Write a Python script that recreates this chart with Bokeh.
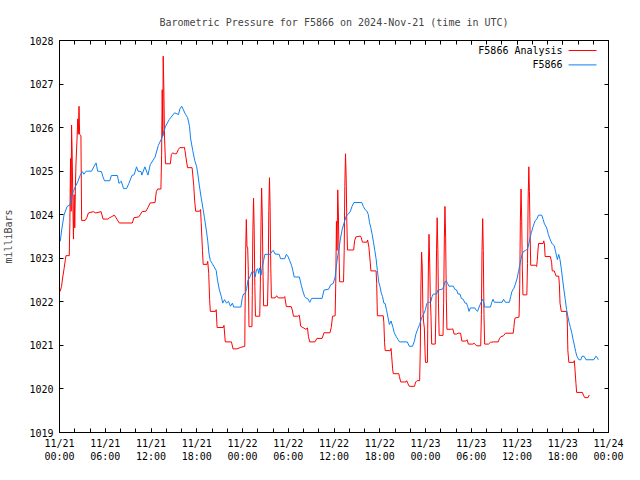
import pandas as pd
from bokeh.plotting import figure
from bokeh.models import (Range1d, FixedTicker, DatetimeAxis, LinearAxis,
                          DatetimeTickFormatter, CustomJSTickFormatter, Label)
from bokeh.embed import file_html
from bokeh.resources import INLINE

# ---------------- data (hours after 2024-11-21 00:00 UTC, millibars) ----------------
START = "2024-11-21 00:00"

analysis_hours = [
    0.09, 0.26, 0.43, 0.6, 0.77, 0.85, 1.28, 1.36, 1.45, 1.53, 1.58, 1.66, 1.75, 1.83, 1.92, 2.0,
    2.09, 2.17, 2.3, 2.39, 2.47, 2.56, 2.64, 2.81, 2.9, 3.37, 3.58, 3.79, 4.43, 4.77, 5.46, 5.71,
    6.35, 6.56, 6.78, 7.2, 7.42, 7.84, 9.55, 9.76, 10.4, 10.83, 11.34, 11.59, 11.89,
    12.53, 12.7, 12.87, 13.3, 13.39, 13.47, 13.55, 13.6, 13.68, 13.77, 13.9, 14.54, 14.67, 14.84,
    15.09, 15.34, 15.6, 15.77, 16.24, 16.37, 16.45, 16.67, 16.8, 17.39, 17.48, 17.6, 17.73, 17.86,
    18.37, 18.5, 18.58, 18.75, 18.84, 19.35, 19.44, 19.57, 19.69, 19.78, 20.46, 20.55, 20.67,
    21.48, 21.57, 21.74, 22.55, 22.76, 23.28, 23.7,
    24.3, 24.33, 24.42, 24.5, 24.59, 24.68, 24.76, 24.85, 25.24, 25.28, 25.36, 25.45, 25.53, 25.62,
    25.7, 26.26, 26.34, 26.43, 26.51, 26.6, 26.68, 26.77, 27.28, 27.37, 27.45, 27.54, 27.62, 27.71,
    27.79, 28.26, 28.48, 28.69, 29.41, 29.54, 29.75, 30.39, 30.52, 30.69, 31.24, 31.46, 31.63,
    32.31, 32.52, 32.65, 32.82, 33.5, 33.76, 34.44, 34.69, 35.47, 35.64, 35.81,
    36.15, 36.23, 36.32, 36.4, 36.49, 36.57, 36.66, 36.74, 37.25, 37.34, 37.42, 37.51, 37.6, 37.68,
    37.77, 38.58, 38.7, 38.87, 39.47, 39.56, 39.73, 40.32, 40.41, 40.58, 40.75, 40.84, 41.52, 41.6,
    41.69, 42.46, 42.54, 42.63, 42.71, 43.39, 43.48, 43.56, 43.69, 43.77, 44.5, 44.58, 44.75,
    45.44, 45.53, 45.7, 45.87, 46.55, 46.72, 46.89, 47.23, 47.32, 47.4, 47.49, 47.57, 47.66,
    47.74, 47.85, 47.95, 48.0,
    48.25, 48.29, 48.38, 48.46, 48.55, 48.63, 48.72, 48.81, 49.28, 49.36, 49.45, 49.53, 49.62, 49.7,
    49.79, 50.3, 50.38, 50.47, 50.55, 50.64, 50.73, 50.81, 51.41, 51.58, 51.75, 52.09, 52.26, 52.6,
    52.77, 53.28, 53.45, 53.62, 54.22, 54.39, 54.47, 54.73, 55.24, 55.33, 55.41, 55.5, 55.58, 55.67,
    55.76, 56.27, 56.52, 56.95, 57.54, 57.71, 57.88, 58.23, 58.48, 59.5, 59.59, 59.68, 59.76,
    60.27, 60.36, 60.44, 60.53, 60.61, 60.7, 60.78, 61.29, 61.38, 61.46, 61.55, 61.63, 61.72, 61.8,
    62.4, 62.57, 62.66, 62.75, 62.83, 63.43, 63.51, 63.6, 63.69, 64.37, 64.54, 64.62, 64.88, 65.13,
    65.47, 65.56, 65.64, 65.81, 66.5, 66.59, 66.67, 66.8, 67.43, 67.52, 67.6, 67.73, 67.82, 68.58,
    68.71, 68.88, 69.31, 69.48,
]
analysis_mbar = [
    1022.24, 1022.35, 1022.57, 1022.76, 1022.97, 1023.06, 1023.06, 1023.82, 1025.29, 1024.08,
    1026.06, 1025.4, 1024.31, 1023.44, 1024.46, 1023.7, 1024.68, 1025.21, 1025.74, 1026.2,
    1025.85, 1026.49, 1025.85, 1025.81, 1023.87, 1023.87, 1023.93, 1024.04, 1024.07, 1024.04,
    1024.07, 1023.9, 1023.9, 1023.93, 1023.95, 1023.99, 1023.93, 1023.81, 1023.81, 1023.93,
    1023.95, 1024.07, 1024.08, 1024.16, 1024.27,
    1024.28, 1024.53, 1024.59, 1024.59, 1025.36, 1026.87, 1025.81, 1027.64, 1026.98, 1025.81,
    1025.17, 1025.17, 1025.38, 1025.42, 1025.4, 1025.4, 1025.5, 1025.54, 1025.54, 1025.55,
    1025.48, 1025.21, 1025.08, 1025.08, 1024.91, 1024.68, 1024.31, 1024.08, 1024.08, 1024.12,
    1023.82, 1023.18, 1022.86, 1022.86, 1022.93, 1022.65, 1022.05, 1021.78, 1021.78, 1021.82,
    1021.41, 1021.41, 1021.46, 1021.08, 1021.08, 1020.92, 1020.92, 1020.95,
    1020.98, 1021.71, 1023.18, 1023.89, 1023.25, 1023.25, 1022.73, 1021.43, 1021.43, 1022.14,
    1023.63, 1024.38, 1023.7, 1022.35, 1021.67, 1021.67, 1022.39, 1023.85, 1024.61, 1023.93,
    1022.76, 1021.91, 1021.91, 1022.65, 1024.1, 1024.85, 1024.16, 1022.78, 1022.09, 1022.09,
    1022.14, 1022.09, 1022.09, 1022.12, 1021.89, 1021.89, 1021.82, 1021.67, 1021.67, 1021.69,
    1021.44, 1021.37, 1021.4, 1021.2, 1021.08, 1021.08, 1021.16, 1021.16, 1021.29, 1021.29,
    1021.41, 1021.67,
    1021.68, 1022.42, 1023.85, 1023.18, 1024.57, 1024.04, 1023.1, 1022.46, 1022.46, 1023.18,
    1024.65, 1025.4, 1024.83, 1023.85, 1023.19, 1023.19, 1023.4, 1023.49, 1023.51, 1023.48,
    1023.37, 1023.37, 1023.42, 1023.25, 1022.91, 1022.71, 1022.71, 1022.42, 1021.68, 1021.68,
    1021.52, 1021.07, 1020.88, 1020.88, 1020.93, 1020.76, 1020.46, 1020.35, 1020.35, 1020.28,
    1020.16, 1020.16, 1020.19, 1020.12, 1020.06, 1020.06, 1020.16, 1020.19, 1020.19, 1020.92,
    1022.39, 1023.14, 1022.8, 1021.82, 1021.56, 1021.4, 1020.8, 1020.61,
    1020.61, 1021.37, 1022.8, 1023.55, 1022.91, 1022.12, 1021.67, 1021.03, 1021.03, 1021.74,
    1023.21, 1023.93, 1023.21, 1021.97, 1021.23, 1021.23, 1021.97, 1023.44, 1024.19, 1023.48,
    1022.08, 1021.37, 1021.37, 1021.38, 1021.26, 1021.26, 1021.28, 1021.28, 1021.1, 1021.1,
    1021.13, 1021.03, 1021.03, 1021.05, 1021.03, 1020.99, 1020.99, 1021.71, 1023.18, 1023.91,
    1023.18, 1021.71, 1021.03, 1021.03, 1021.07, 1021.08, 1021.08, 1021.16, 1021.2, 1021.22,
    1021.28, 1021.28, 1021.41, 1021.58, 1021.63,
    1021.65, 1022.39, 1023.84, 1024.59, 1023.97, 1022.76, 1022.16, 1022.16, 1022.88, 1024.34,
    1025.1, 1024.53, 1023.55, 1022.84, 1022.84, 1022.81, 1022.95, 1023.19, 1023.34, 1023.34,
    1023.4, 1023.33, 1023.04, 1023.04, 1022.91, 1022.71, 1022.71, 1022.59, 1022.59, 1022.39,
    1021.97, 1021.78, 1021.78, 1021.59, 1020.88, 1020.61, 1020.61, 1020.65, 1020.46, 1020.13,
    1019.92, 1019.92, 1019.86, 1019.8, 1019.8, 1019.86,
]

station_hours = [
    0.1, 0.3, 0.6, 1.0, 1.4, 1.5, 1.8, 2.1, 2.4, 2.7, 3.0, 3.2, 3.5, 4.2, 4.5, 4.8, 5.0, 5.5, 5.7,
    5.9, 6.6, 6.8, 7.6, 7.8, 8.1, 8.4, 8.8, 9.1, 9.5, 9.8, 10.1, 10.3, 10.7, 10.8, 11.2, 11.6, 11.9,
    12.53, 12.96, 13.47, 13.9, 14.41, 15.09, 15.6, 15.8, 16.03, 16.54, 16.8, 17.05, 17.2, 17.47,
    17.73, 17.99, 18.16, 18.33, 18.59, 18.84, 19.01, 19.27, 19.44, 19.61, 19.78, 20.03, 20.29,
    20.55, 20.72, 20.97, 21.23, 21.4, 21.65, 21.91, 22.16, 22.42, 22.68, 22.85, 23.28, 23.79, 23.96,
    24.13, 24.38, 24.55, 24.72, 24.89, 25.07, 25.24, 25.49, 25.66, 25.83, 26.0, 26.13, 26.26, 26.43,
    26.6, 26.77, 26.94, 27.62, 27.88, 28.05, 28.26, 28.81, 28.99, 29.53, 29.75, 30.0, 30.18, 30.43,
    30.6, 30.78, 31.46, 31.71, 31.88, 32.15, 32.31, 32.57, 32.82, 33.07, 34.44, 34.69, 35.3, 35.55,
    35.89,
    36.15, 36.32, 36.49, 36.66, 36.83, 37.08, 37.34, 37.6, 37.85, 38.15, 38.36, 38.62, 39.64, 39.85,
    40.07, 40.32, 40.49, 40.66, 40.83, 41.0, 41.18, 41.35, 41.52, 41.69, 41.86, 42.03, 42.2, 42.37,
    42.54, 42.71, 42.88, 43.05, 43.26, 43.48, 43.74, 43.9, 44.16, 44.42, 44.59, 45.61, 45.87, 46.29,
    46.55, 46.72, 46.97, 47.23, 47.49, 47.74, 47.99,
    48.17, 48.34, 48.68, 48.86, 49.03, 49.45, 49.62, 50.22, 50.38, 50.55, 50.73, 50.9, 51.07, 51.66,
    51.83, 52.09, 52.26, 52.52, 52.69, 52.94, 53.19, 53.37, 53.54, 53.71, 53.88, 54.47, 54.65, 54.82,
    54.99, 55.24, 55.5, 55.67, 55.76, 56.52, 56.69, 56.86, 57.03, 58.05, 58.23, 58.48, 59.0, 59.17,
    59.34, 59.59, 59.76, 60.02,
    60.19, 60.36, 60.53, 60.7, 60.87, 61.13, 61.38, 61.55, 61.72, 61.89, 62.06, 62.23, 62.4, 62.57,
    62.83, 63.25, 63.43, 63.6, 63.77, 63.94, 64.11, 64.28, 64.45, 64.62, 64.88, 65.05, 65.22, 65.3,
    65.47, 65.64, 65.81, 65.99, 66.16, 66.33, 66.5, 66.67, 66.84, 67.01, 67.18, 67.35, 67.52, 67.69,
    67.86, 68.12, 68.37, 68.54, 68.8, 69.05, 70.07, 70.33, 70.5, 70.67,
]
station_mbar = [
    1023.39, 1023.67, 1024.0, 1024.19, 1024.23, 1024.38, 1024.53, 1024.65, 1024.76, 1024.9,
    1024.99, 1024.93, 1025.0, 1025.0, 1025.1, 1025.19, 1025.0, 1024.99, 1024.87, 1024.78,
    1024.78, 1024.9, 1024.9, 1024.72, 1024.77, 1024.6, 1024.6, 1024.72, 1024.9, 1024.92,
    1025.1, 1025.0, 1024.99, 1024.91, 1025.1, 1024.91, 1025.15,
    1025.32, 1025.59, 1025.78, 1026.03, 1026.19, 1026.34, 1026.3, 1026.43, 1026.49, 1026.3,
    1026.23, 1026.03, 1025.74, 1025.48, 1025.25, 1025.1, 1024.91, 1024.68, 1024.38, 1024.12,
    1023.93, 1023.63, 1023.4, 1023.1, 1022.95, 1022.88, 1022.8, 1022.72, 1022.5, 1022.27,
    1022.12, 1021.97, 1022.05, 1021.97, 1022.01, 1021.9, 1021.97, 1021.88, 1021.88, 1021.88,
    1022.08,
    1022.18, 1022.2, 1022.31, 1022.5, 1022.54, 1022.61, 1022.69, 1022.69, 1022.57, 1022.74,
    1022.76, 1022.65, 1022.78, 1022.61, 1022.8, 1022.95, 1023.09, 1023.09, 1023.16, 1023.18,
    1023.1, 1023.09, 1022.99, 1022.99, 1023.09, 1023.03, 1022.95, 1022.84, 1022.72, 1022.57,
    1022.57, 1022.38, 1022.27, 1022.12, 1022.09, 1022.07, 1021.99, 1022.08, 1022.08, 1022.27,
    1022.29, 1022.39, 1022.42,
    1022.57, 1022.84, 1023.06, 1023.21, 1023.44, 1023.67, 1023.82, 1023.97, 1024.01, 1024.08,
    1024.19, 1024.28, 1024.28, 1024.19, 1024.12, 1024.08, 1024.01, 1023.82, 1023.7, 1023.55,
    1023.37, 1023.18, 1022.99, 1022.72, 1022.46, 1022.35, 1022.2, 1022.12, 1021.97, 1021.96,
    1021.82, 1021.67, 1021.48, 1021.56, 1021.41, 1021.29, 1021.2, 1021.13, 1021.08, 1021.08,
    1020.98, 1020.98, 1021.1, 1021.25, 1021.37, 1021.48, 1021.63, 1021.71, 1021.82,
    1021.96, 1021.99, 1021.99, 1022.12, 1022.18, 1022.18, 1022.27, 1022.29, 1022.35, 1022.46,
    1022.48, 1022.42, 1022.36, 1022.36, 1022.29, 1022.27, 1022.18, 1022.18, 1022.08, 1022.06,
    1021.97, 1021.97, 1021.89, 1021.78, 1021.86, 1021.86, 1021.81, 1021.78, 1021.86, 1021.97,
    1022.06, 1021.97, 1021.88, 1021.88, 1021.99, 1022.06, 1021.99, 1021.99, 1022.06, 1021.99,
    1021.99, 1022.12, 1022.24, 1022.31, 1022.39, 1022.54,
    1022.69, 1022.84, 1022.99, 1023.1, 1023.16, 1023.18, 1023.21, 1023.33, 1023.48, 1023.59,
    1023.7, 1023.79, 1023.87, 1023.89, 1023.99, 1023.99, 1023.89, 1023.79, 1023.74, 1023.67,
    1023.55, 1023.46, 1023.39, 1023.33, 1023.29, 1023.16, 1023.03, 1022.97, 1023.09, 1022.97,
    1022.76, 1022.5, 1022.27, 1022.05, 1021.82, 1021.67, 1021.52, 1021.41, 1021.29, 1021.14,
    1021.01, 1020.86, 1020.75, 1020.67, 1020.67, 1020.75, 1020.75, 1020.67, 1020.67, 1020.75,
    1020.73, 1020.67,
]

series_names = ["F5866 Analysis", "F5866"]
series_colors = ["#ff0000", "#1080f0"]
y_ticks = [1019, 1020, 1021, 1022, 1023, 1024, 1025, 1026, 1027, 1028]
x_major_hours = [0, 6, 12, 18, 24, 30, 36, 42, 48, 54, 60, 66, 72]
x_minor_hours = list(range(0, 73, 2))
title_text = "Barometric Pressure for F5866 on 2024-Nov-21 (time in UTC)"
y_label = "milliBars"

# ---------------- helpers ----------------
t0 = pd.Timestamp(START)


def to_time(hours):
    return t0 + pd.to_timedelta(hours, unit="h")


def to_ms(hours):
    return [to_time(h).timestamp() * 1000.0 for h in hours]


FONT = "DejaVu Sans Mono"
FS = "10px"

x_start, x_end = to_ms([0, 72])
p = figure(width=624, height=464, x_axis_type="datetime",
           x_range=Range1d(x_start, x_end), y_range=Range1d(1019, 1028),
           output_backend="svg", toolbar_location=None, title=title_text,
           min_border_left=58, min_border_right=16, min_border_top=40, min_border_bottom=32)

p.background_fill_color = "white"
p.border_fill_color = "white"
p.outline_line_color = "black"
p.outline_line_width = 1
p.grid.visible = False

p.title.text_font = FONT
p.title.text_font_size = FS
p.title.text_font_style = "normal"
p.title.align = "center"
p.title.standoff = 26

fmt_str = "%m/%d\n%H:%M"
fmt = DatetimeTickFormatter(microseconds=fmt_str, milliseconds=fmt_str, seconds=fmt_str,
                            minsec=fmt_str, minutes=fmt_str, hourmin=fmt_str, hours=fmt_str,
                            days=fmt_str, months=fmt_str, years=fmt_str)
xticker = FixedTicker(ticks=to_ms(x_major_hours), minor_ticks=to_ms(x_minor_hours))
yticker = FixedTicker(ticks=y_ticks)


def style_axis(ax, labels=True):
    ax.axis_line_color = None
    ax.major_tick_in = 4
    ax.major_tick_out = 0
    ax.minor_tick_in = 4
    ax.minor_tick_out = 0
    ax.major_tick_line_color = "black"
    ax.minor_tick_line_color = "black"
    if labels:
        ax.major_label_text_font = FONT
        ax.major_label_text_font_size = FS
        ax.major_label_text_color = "black"
    else:
        # mirrored tick marks only (gnuplot border ticks), no labels drawn
        ax.formatter = CustomJSTickFormatter(code="return '';")
        ax.major_label_text_color = None
        ax.major_label_text_font_size = "1px"
        ax.major_label_standoff = 0


xa = p.xaxis[0]
xa.ticker = xticker
xa.formatter = fmt
style_axis(xa)
xa.major_label_standoff = 5

ya = p.yaxis[0]
ya.ticker = yticker
style_axis(ya)
ya.minor_tick_line_color = None
ya.major_label_standoff = 6
ya.axis_label = y_label
ya.axis_label_text_font = FONT
ya.axis_label_text_font_size = FS
ya.axis_label_text_font_style = "normal"
ya.axis_label_standoff = 12

top = DatetimeAxis(ticker=xticker)
style_axis(top, labels=False)
p.add_layout(top, "above")

right = LinearAxis(ticker=yticker)
style_axis(right, labels=False)
right.minor_tick_line_color = None
p.add_layout(right, "right")

# ---------------- series ----------------
p.line(to_time(analysis_hours), analysis_mbar, line_color=series_colors[0], line_width=1)
p.line(to_time(station_hours), station_mbar, line_color=series_colors[1], line_width=1)

# ---------------- gnuplot-style key (text then sample line) ----------------
span = x_end - x_start
text_x = x_end - 0.0836 * span
seg_x0 = x_end - 0.0727 * span
seg_x1 = x_end - 0.0218 * span
key_y = [1027.77, 1027.44]
for name, color, ky in zip(series_names, series_colors, key_y):
    p.add_layout(Label(x=text_x, y=ky, text=name, text_align="right", text_baseline="middle",
                       text_font=FONT, text_font_size=FS, text_color="black"))
    p.segment(x0=[seg_x0], y0=[ky], x1=[seg_x1], y1=[ky], line_color=color, line_width=1)

open("out.html", "w").write(file_html(p, INLINE))
